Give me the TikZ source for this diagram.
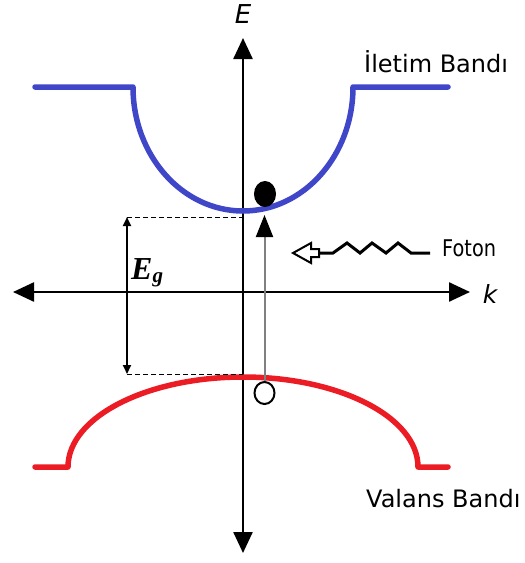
\documentclass[tikz,border=0pt]{standalone}
\usepackage{fontspec}
\usetikzlibrary{arrows.meta,shapes.geometric}
\newfontfamily\labfont{DejaVu Sans}
\newfontfamily\fotonfont[FakeStretch=0.84]{DejaVu Sans}
\newfontfamily\serfont{Liberation Serif}
\definecolor{bandblue}{RGB}{64,70,200}
\definecolor{bandred}{RGB}{236,28,36}
\tikzset{
  axis/.style={line width=2.5pt,-{Triangle[length=21pt,width=19pt]}},
  band/.style={line width=5.5pt,line cap=round,line join=round},
  guide/.style={line width=1pt,dash pattern=on 5pt off 3pt},
  gaparrow/.style={line width=2.2pt,{Triangle[length=9pt,width=8pt]}-{Triangle[length=9pt,width=8pt]}},
  particle/.style={ellipse,draw,line width=2pt,inner sep=0pt},
  lbl/.style={inner sep=0pt,font=\labfont\fontsize{24}{28}\selectfont},
}
\begin{document}
\begin{tikzpicture}[x=1pt,y=-1pt]
\useasboundingbox (0,0) rectangle (525,563);
% axes
\coordinate (ytop) at (243,38);
\coordinate (ybot) at (243,553);
\coordinate (xl) at (13,292);
\coordinate (xr) at (470,292);
\coordinate (o) at (243,292);
\draw[axis] (o) -- (ytop);
\draw[axis] (o) -- (ybot);
\draw[axis] (o) -- (xl);
\draw[axis] (o) -- (xr);
\node[inner sep=0pt,font=\labfont\itshape\fontsize{26}{30}\selectfont] (E) at (243,14) {E};
\node[inner sep=0pt,font=\labfont\itshape\fontsize{25}{30}\selectfont] (k) at (490,294) {k};
% conduction band
\draw[band,bandblue] (35,87) -- (133,87) arc[start angle=180,end angle=360,x radius=110,y radius=-124] -- (448,87);
% valence band
\draw[band,bandred] (35,467) -- (68,467) arc[start angle=180,end angle=0,x radius=175,y radius=-90] -- (448,467);
% gap guides
\coordinate (gt) at (127,217);
\coordinate (gb) at (127,374);
\coordinate (gta) at (243,217);
\coordinate (gba) at (243,374);
\draw[guide] (gt) -- (gta);
\draw[guide] (gb) -- (gba);
\draw[gaparrow] (gt) -- (gb);
\node[inner sep=0pt,anchor=base west,font=\serfont\bfseries\itshape\fontsize{32}{32}\selectfont] (Eg) at (131,279) {E\raisebox{-3pt}{\fontsize{21}{21}\selectfont g}};
% electron and hole
\node[particle,fill=black,minimum width=20pt,minimum height=24pt] (el) at (265,194) {};
\node[particle,fill=white,minimum width=20pt,minimum height=22pt] (ho) at (264.5,393) {};
\coordinate (tip) at (264.5,215);
\draw[gray,line width=2pt,-{Triangle[length=22pt,width=17pt,color=black]}] (ho.north) -- (tip);
% photon
\draw[line width=2pt,fill=white,line join=miter] (293,253) -- (311,243) -- (311,249) -- (319,249) -- (319,257) -- (311,257) -- (311,263) -- cycle;
\draw[line width=3pt,line join=miter] (319,253) -- (333,253) -- (347,243) -- (360,253) -- (372,243) -- (386,253) -- (398,243) -- (411,253) -- (430,253);
\node[inner sep=0pt,anchor=base west,font=\fotonfont\fontsize{23}{28}\selectfont] (foton) at (442,256) {Foton};
% band labels
\node[lbl,anchor=base west] (cb) at (364,72) {İletim Bandı};
\node[lbl,anchor=base west] (vb) at (366,507) {Valans Bandı};
\end{tikzpicture}
\end{document}
